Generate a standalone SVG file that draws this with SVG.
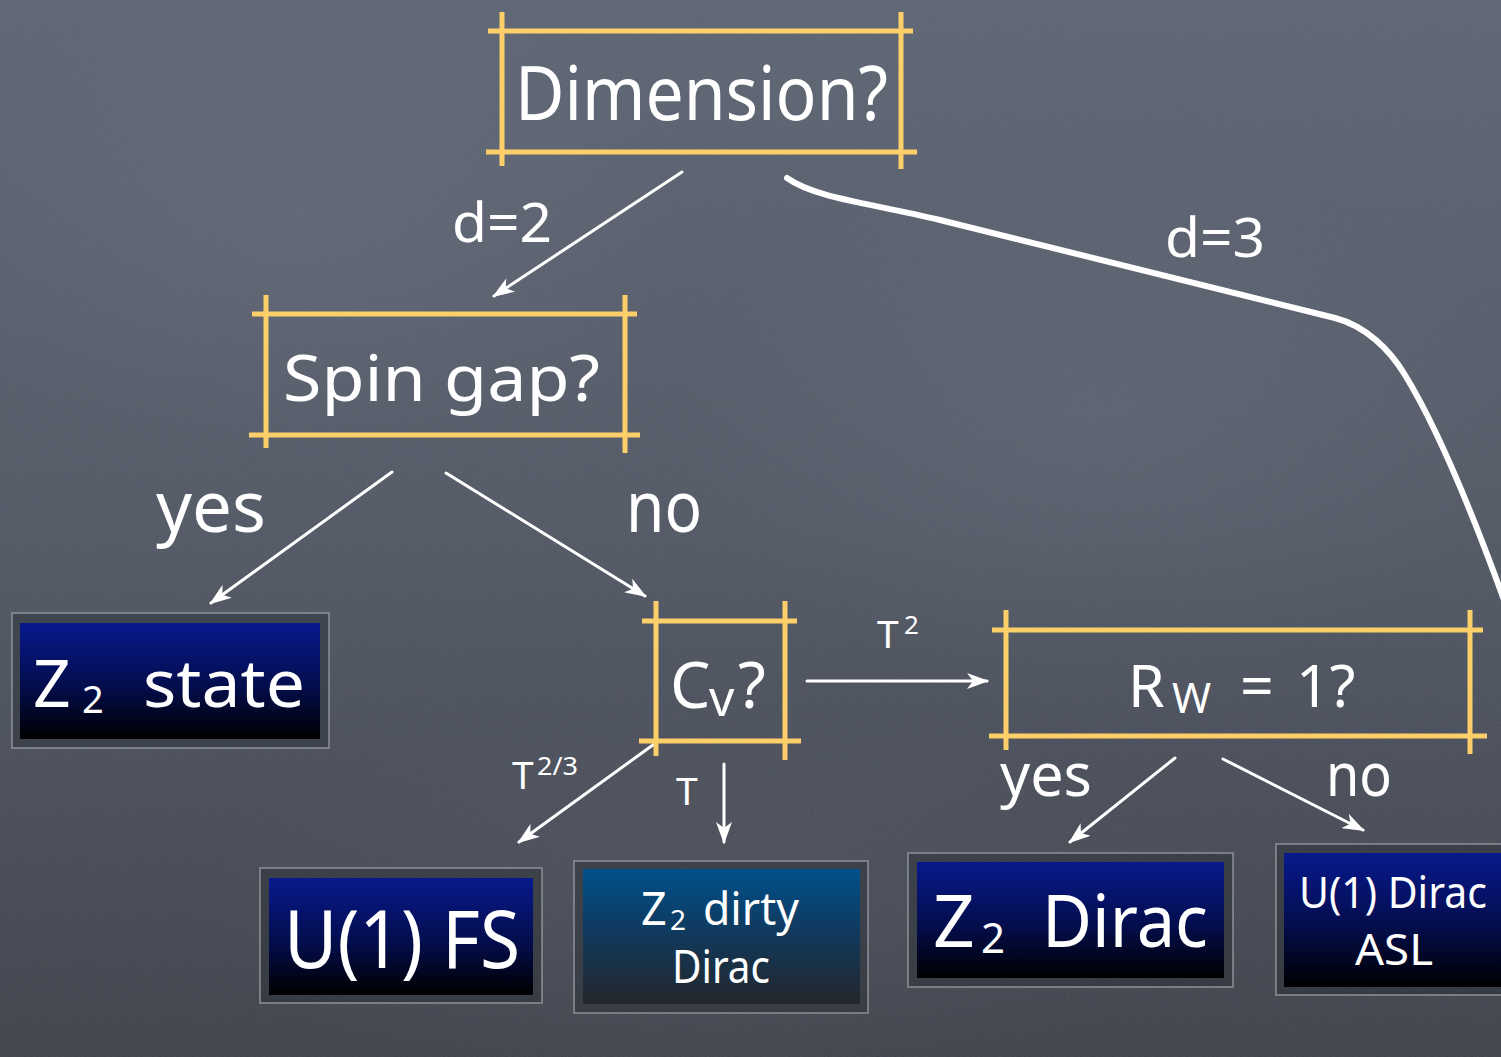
<svg xmlns="http://www.w3.org/2000/svg" width="1501" height="1057" viewBox="0 0 1501 1057">
  <defs>
    <style>
      .q { fill: none; stroke: #fccf6b; stroke-width: 5; }
      .lbl { fill: #ffffff; font-family: "Noto Sans", "DejaVu Sans", sans-serif; }
      .conn { fill: none; stroke: #ffffff; stroke-width: 3; stroke-linecap: round; }
      .thick { stroke-width: 6; }
      .frame { fill: rgba(30, 33, 40, 0.35); stroke: #8d9199; stroke-width: 1.5; }
    </style>
    <linearGradient id="board" x1="0" y1="0" x2="0" y2="1">
      <stop offset="0" stop-color="#5b6270"/>
      <stop offset="0.5" stop-color="#4f5562"/>
      <stop offset="1" stop-color="#3c4049"/>
    </linearGradient>
    <radialGradient id="smudge" cx="0.5" cy="0.5" r="0.5">
      <stop offset="0" stop-color="#7a8190" stop-opacity="0.18"/>
      <stop offset="1" stop-color="#7a8190" stop-opacity="0"/>
    </radialGradient>
    <linearGradient id="navy" x1="0" y1="0" x2="0" y2="1">
      <stop offset="0" stop-color="#08198d"/>
      <stop offset="0.55" stop-color="#030d4c"/>
      <stop offset="1" stop-color="#000000"/>
    </linearGradient>
    <linearGradient id="teal" x1="0" y1="0" x2="0" y2="1">
      <stop offset="0" stop-color="#00508c"/>
      <stop offset="0.5" stop-color="#11385a"/>
      <stop offset="1" stop-color="#24272b"/>
    </linearGradient>
    <filter id="grain" x="0" y="0" width="100%" height="100%">
      <feTurbulence type="fractalNoise" baseFrequency="0.9" numOctaves="2" seed="3"/>
      <feColorMatrix type="matrix" values="0 0 0 0 1  0 0 0 0 1  0 0 0 0 1  0 0 0 0.08 0"/>
    </filter>
    <marker id="head" viewBox="0 0 22 16" markerWidth="22" markerHeight="16" refX="20" refY="8" orient="auto" markerUnits="userSpaceOnUse">
      <path d="M0,0 L22,8 L0,16 L6,8 Z" fill="#ffffff"/>
    </marker>
  </defs>

  <!-- chalkboard -->
  <rect width="1501" height="1057" fill="url(#board)"/>
  <ellipse cx="300" cy="220" rx="380" ry="240" fill="url(#smudge)"/>
  <ellipse cx="1100" cy="420" rx="420" ry="260" fill="url(#smudge)"/>
  <ellipse cx="700" cy="900" rx="500" ry="200" fill="url(#smudge)" opacity="0.6"/>
  <rect width="1501" height="1057" filter="url(#grain)"/>

  <!-- connectors -->
  <g id="connectors">
    <path class="conn" d="M682,172 L494,296" marker-end="url(#head)"/>
    <path class="conn thick" d="M787,178 C815,198 870,203 940,220 C1070,252 1200,284 1335,318 C1366,326 1390,350 1405,375 C1440,432 1475,520 1504,600"/>
    <path class="conn" d="M392,472 L211,603" marker-end="url(#head)"/>
    <path class="conn" d="M446,473 L645,596" marker-end="url(#head)"/>
    <path class="conn" d="M807,681 L987,681" marker-end="url(#head)"/>
    <path class="conn" d="M724,764 L724,842" marker-end="url(#head)"/>
    <path class="conn" d="M657,742 L519,842" marker-end="url(#head)"/>
    <path class="conn" d="M1175,758 L1070,842" marker-end="url(#head)"/>
    <path class="conn" d="M1223,759 L1363,830" marker-end="url(#head)"/>
    <text class="lbl" x="452" y="242" font-size="54" textLength="100" lengthAdjust="spacingAndGlyphs">d=2</text>
    <text class="lbl" x="1165" y="257" font-size="54" textLength="100" lengthAdjust="spacingAndGlyphs">d=3</text>
    <text class="lbl" x="156" y="532" font-size="72" textLength="110" lengthAdjust="spacingAndGlyphs">yes</text>
    <text class="lbl" x="626" y="532" font-size="72" textLength="76" lengthAdjust="spacingAndGlyphs">no</text>
    <text class="lbl" x="1000" y="796" font-size="60" textLength="92" lengthAdjust="spacingAndGlyphs">yes</text>
    <text class="lbl" x="1326" y="796" font-size="60" textLength="66" lengthAdjust="spacingAndGlyphs">no</text>
    <text class="lbl" font-size="39"><tspan x="877" y="648">T</tspan><tspan x="904" y="634" font-size="26">2</tspan></text>
    <text class="lbl" x="676" y="805" font-size="39">T</text>
    <text class="lbl" font-size="39"><tspan x="512" y="789">T</tspan><tspan x="537" y="775" font-size="26" textLength="41" lengthAdjust="spacingAndGlyphs">2/3</tspan></text>
  </g>

  <!-- question nodes -->
  <g id="dimension">
    <path class="q" d="M488,31 H913 M486,152 H917 M502,12 V166 M901,12 V169"/>
    <text class="lbl" x="515" y="120" font-size="74" textLength="373" lengthAdjust="spacingAndGlyphs">Dimension?</text>
  </g>
  <g id="spin-gap">
    <path class="q" d="M252,314 H637 M249,435 H640 M266,295 V448 M625,295 V453"/>
    <text class="lbl" x="283" y="401" font-size="64" textLength="317" lengthAdjust="spacingAndGlyphs">Spin gap?</text>
  </g>
  <g id="cv">
    <path class="q" d="M642,621 H797 M639,741 H801 M656,601 V756 M785,601 V760"/>
    <text class="lbl" font-size="64"><tspan x="670" y="708">C</tspan><tspan x="709" y="716" font-size="50">v</tspan><tspan x="738" y="708">?</tspan></text>
  </g>
  <g id="rw">
    <path class="q" d="M992,630 H1483 M989,736 H1487 M1006,610 V750 M1470,610 V754"/>
    <text class="lbl" font-size="59"><tspan x="1128" y="707">R</tspan><tspan x="1172" y="713" font-size="42">W</tspan><tspan x="1240" y="707">=</tspan><tspan x="1296" y="707">1?</tspan></text>
  </g>

  <!-- outcome nodes -->
  <g id="z2-state">
    <rect class="frame" x="12" y="613" width="317" height="135"/>
    <rect x="20" y="623" width="300" height="116" fill="url(#navy)"/>
    <text class="lbl" font-size="66"><tspan x="33" y="707">Z</tspan><tspan x="82" y="713" font-size="38">2</tspan><tspan x="143" y="707" textLength="162" lengthAdjust="spacingAndGlyphs">state</tspan></text>
  </g>
  <g id="u1-fs">
    <rect class="frame" x="260" y="868" width="282" height="135"/>
    <rect x="269" y="878" width="264" height="117" fill="url(#navy)"/>
    <text class="lbl" x="284" y="968" font-size="80" textLength="236" lengthAdjust="spacingAndGlyphs">U(1) FS</text>
  </g>
  <g id="z2-dirty-dirac">
    <rect class="frame" x="574" y="861" width="294" height="152"/>
    <rect x="583" y="869" width="277" height="135" fill="url(#teal)"/>
    <text class="lbl" font-size="45"><tspan x="641" y="925">Z</tspan><tspan x="670" y="930" font-size="28">2</tspan><tspan x="703" y="925" textLength="96" lengthAdjust="spacingAndGlyphs">dirty</tspan></text>
    <text class="lbl" x="672" y="983" font-size="45" textLength="98" lengthAdjust="spacingAndGlyphs">Dirac</text>
  </g>
  <g id="z2-dirac">
    <rect class="frame" x="908" y="853" width="325" height="134"/>
    <rect x="917" y="862" width="307" height="116" fill="url(#navy)"/>
    <text class="lbl" font-size="73"><tspan x="933" y="947">Z</tspan><tspan x="981" y="953" font-size="42">2</tspan><tspan x="1042" y="947" textLength="166" lengthAdjust="spacingAndGlyphs">Dirac</tspan></text>
  </g>
  <g id="u1-dirac-asl">
    <rect class="frame" x="1276" y="844" width="240" height="151"/>
    <rect x="1284" y="853" width="230" height="134" fill="url(#navy)"/>
    <text class="lbl" x="1299" y="908" font-size="44" textLength="188" lengthAdjust="spacingAndGlyphs">U(1) Dirac</text>
    <text class="lbl" x="1355" y="965" font-size="44" textLength="78" lengthAdjust="spacingAndGlyphs">ASL</text>
  </g>
</svg>
